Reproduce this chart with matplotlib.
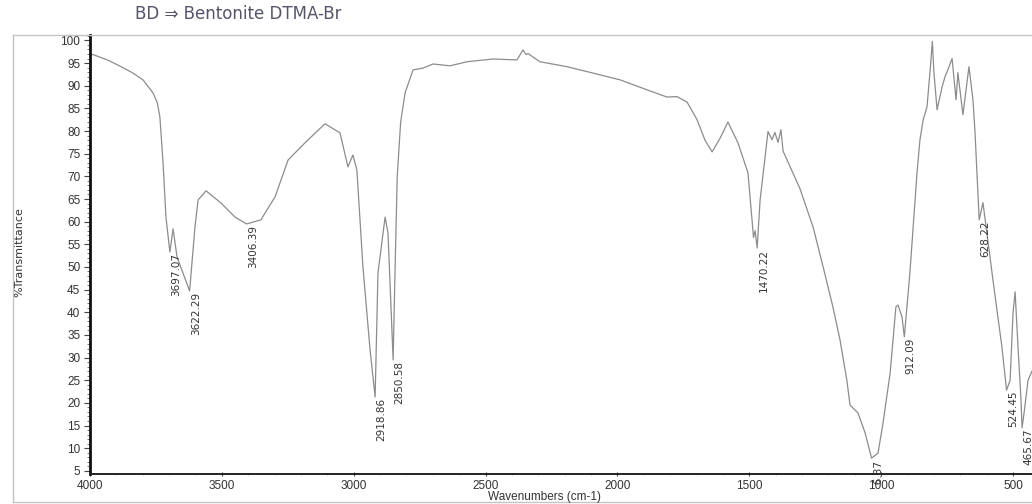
import matplotlib.pyplot as plt
from matplotlib.lines import Line2D
from matplotlib.ticker import MultipleLocator
from matplotlib.transforms import ScaledTranslation, Bbox, TransformedBbox

# FTIR spectrum: wavenumber (cm-1) and %T
wavenumber = [4000, 3985, 3930, 3882, 3840, 3799, 3761, 3745, 3735, 3723, 3712,
              3697.07, 3685, 3670, 3622.29, 3602, 3590, 3560, 3503, 3450,
              3406.39, 3352, 3298, 3249, 3185, 3109, 3052, 3022, 3003, 2988,
              2965, 2938, 2918.86, 2908, 2881, 2870, 2850.58, 2843, 2835, 2822,
              2805, 2790, 2775, 2737, 2699, 2635, 2570, 2472, 2381, 2358,
              2347, 2339, 2294, 2191, 2093, 1990, 1888, 1812, 1774, 1736,
              1698, 1668, 1641, 1610, 1581, 1543, 1505, 1484, 1478, 1470.22,
              1459, 1429, 1414, 1403, 1391, 1380, 1372, 1308, 1258, 1220,
              1183, 1156, 1130, 1118, 1088, 1061, 1036.37, 1012, 993, 966,
              944, 936, 921, 912.09, 891, 864, 853, 841, 826, 812,
              806, 800, 788, 769, 758, 747, 731, 716, 709, 690,
              667, 652, 644, 628.22, 614, 602, 576, 542, 524.45, 511,
              500, 492, 481, 470, 465.67, 458, 443, 428]
transmittance = [97.0, 96.8, 95.6, 94.2, 92.9, 91.3, 88.4, 86.3, 83.1, 73.0, 61.0,
                 53.3, 58.4, 52.2, 44.7, 58.8, 64.8, 66.8, 64.1, 61.0,
                 59.5, 60.4, 65.5, 73.6, 77.4, 81.6, 79.6, 72.1, 74.7, 71.4,
                 50.0, 31.7, 21.3, 48.7, 61.0, 57.5, 29.5, 50.0, 70.0, 82.0,
                 88.5, 91.0, 93.5, 93.9, 94.8, 94.4, 95.3, 95.9, 95.7, 97.9,
                 96.9, 97.1, 95.3, 94.2, 92.8, 91.3, 89.1, 87.5, 87.6, 86.4,
                 82.5, 78.0, 75.4, 78.5, 82.0, 77.4, 70.8, 56.5, 58.0, 54.2,
                 64.8, 79.9, 78.1, 79.7, 77.5, 80.3, 75.6, 67.3, 58.8, 50.0,
                 41.2, 33.9, 25.0, 19.5, 17.8, 13.4, 7.8, 8.9, 15.5, 26.6,
                 41.2, 41.6, 39.0, 34.6, 48.7, 70.8, 78.0, 82.4, 85.4, 95.0,
                 99.8, 93.0, 84.7, 89.7, 92.0, 93.5, 96.0, 86.9, 92.9, 83.6,
                 94.2, 87.0, 79.6, 60.4, 64.2, 58.8, 47.1, 32.3, 22.8, 25.0,
                 39.8, 44.5, 32.3, 21.0, 14.5, 17.8, 25.0, 27.0]

# labelled band positions
peak_labels = [3697.07, 3622.29, 3406.39, 2918.86, 2850.58, 1470.22,
               1036.37, 912.09, 628.22, 524.45, 465.67]

fig = plt.figure(figsize=(10.32, 5.04), dpi=100)
ax = fig.add_axes([90/1032, 30/504, 942/1032, 439/504])

ax.plot(wavenumber, transmittance, color='#8c8c8c', lw=0.9)
ax.set_xlim(4000, 428)
ax.set_ylim(4.3, 101.2)

narrow = ['DejaVu Sans Condensed', 'Liberation Sans Narrow', 'DejaVu Sans']
shift = ax.transData + ScaledTranslation(4.5/72, -0.5/72, fig.dpi_scale_trans)
# labels may run a little past the x axis, then get cut off
label_clip = TransformedBbox(Bbox([[0, -0.028], [1, 1]]), ax.transAxes)
for wn in peak_labels:
    t = transmittance[wavenumber.index(wn)]
    lbl = ax.text(wn, t, f"{wn:.2f}", transform=shift, rotation=90, ha='center',
                  va='top', fontsize=7.5, family=narrow, color='#333333')
    lbl.set_clip_box(label_clip)
    lbl.set_clip_path(None)
    lbl.set_clip_on(True)

ax.set_xticks([4000, 3500, 3000, 2500, 2000, 1500, 1000, 500])
ax.xaxis.set_minor_locator(MultipleLocator(100))
ax.set_yticks(range(5, 101, 5))
ax.yaxis.set_minor_locator(MultipleLocator(1))
ax.tick_params(axis='both', which='major', labelsize=8.5, labelcolor='#333333',
               colors='#444444', labelfontfamily='Liberation Sans')
ax.tick_params(axis='y', which='major', length=4, width=0.8, pad=3)
ax.tick_params(axis='y', which='minor', length=2.5, width=0.6, colors='#666666')
ax.tick_params(axis='x', which='major', length=3, width=0.8, direction='inout', pad=3)
ax.tick_params(axis='x', which='minor', length=2, width=0.5, direction='inout',
               colors='#999999')

for side in ['top', 'right']:
    ax.spines[side].set_visible(False)
ax.spines['left'].set_linewidth(2.0)
ax.spines['left'].set_color('#111111')
ax.spines['bottom'].set_linewidth(1.4)
ax.spines['bottom'].set_color('#222222')

fig.text(545/1032, 1 - 497/504, 'Wavenumbers (cm-1)', ha='center', va='center',
         fontsize=8.5, family='Liberation Sans', color='#333333')
fig.text(19/1032, 1 - 252/504, '%Transmittance', ha='center', va='center',
         rotation=90, fontsize=8, family=narrow, color='#333333')
fig.text(135/1032, 1 - 14/504, 'BD ⇒ Bentonite DTMA-Br', ha='left', va='center',
         fontsize=12, family=['DejaVu Sans', 'Noto Sans'], color='#55556a')

# light outer frame around the plot area
fx0, fy0, fy1 = 13/1032, 2/504, 1 - 35/504
for xs, ys in [([fx0, fx0], [fy0, fy1]), ([fx0, 1], [fy1, fy1]), ([fx0, 1], [fy0, fy0])]:
    fig.add_artist(Line2D(xs, ys, transform=fig.transFigure, color='#c4c4c4', lw=1))

fig.savefig('out.png', dpi=100)
